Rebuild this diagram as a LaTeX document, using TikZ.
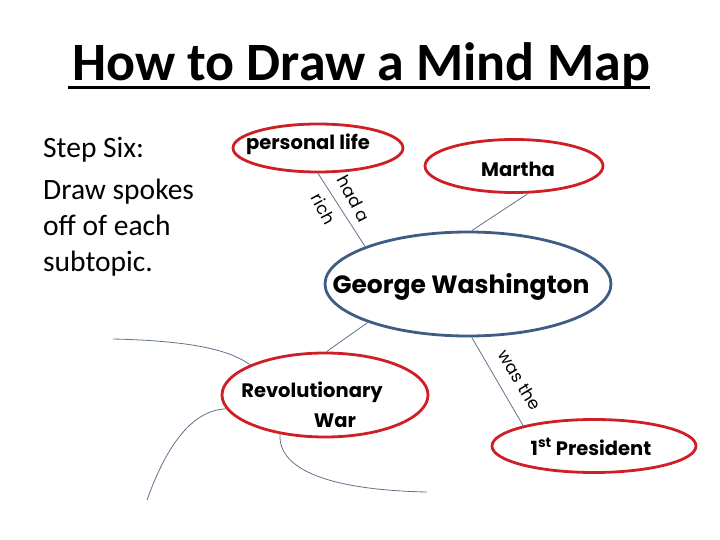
\documentclass[tikz,border=0pt]{standalone}
\usepackage{fontspec}
\setmainfont{Carlito}
\newfontfamily\nodefont{Poppins}
\usetikzlibrary{shapes.geometric}
\definecolor{tred}{RGB}{206,30,38}
\definecolor{tblue}{RGB}{62,92,132}
\definecolor{tspoke}{RGB}{95,115,140}
\begin{document}
\begin{tikzpicture}[x=1pt,y=-1pt,
  redell/.style={ellipse, draw=tred, line width=2.8pt, inner sep=0pt},
  blueell/.style={ellipse, draw=tblue, line width=2.8pt, inner sep=0pt},
  ntext/.style={font=\nodefont\bfseries\fontsize{19.5}{22}\selectfont, inner sep=0pt, align=center},
  ltext/.style={font=\nodefont\fontsize{17}{19}\selectfont, inner sep=0pt},
  spoke/.style={draw=tspoke, line width=0.8pt}]
\useasboundingbox (0,0) rectangle (720,540);
% title
\node[font=\bfseries\fontsize{54}{60}\selectfont, inner sep=0pt, anchor=base] (title) at (361,81) {How to Draw a Mind Map};
\draw[line width=3pt] (68,87.5) -- (650,87.5);
% left text
\node[font=\fontsize{29.5}{36}\selectfont, align=left, inner sep=0pt, anchor=north west] (steps) at (43,137.5)
  {Step Six:\\[6pt]Draw spokes\\off of each\\subtopic.};
% ellipses
\node[redell, minimum width=170pt, minimum height=48pt] (pl) at (318,148) {};
\node[ntext, anchor=base] (plt) at (308,150) {personal life};
\node[redell, minimum width=178pt, minimum height=53pt] (ma) at (514,166) {};
\node[ntext, anchor=base] (mat) at (518,177) {Martha};
\node[blueell, minimum width=286pt, minimum height=104pt] (gw) at (468,284) {};
\node[ntext, font=\nodefont\bfseries\fontsize{25}{28}\selectfont, anchor=base] (gwt) at (461,293) {George Washington};
\node[redell, minimum width=206pt, minimum height=84pt] (rw) at (325,395) {};
\node[ntext, anchor=base] (rwt1) at (312,397) {Revolutionary};
\node[ntext, anchor=base] (rwt2) at (335,427) {War};
\node[redell, minimum width=204pt, minimum height=53pt] (pr) at (594,446) {};
\node[ntext, anchor=base] (prt) at (591,455) {1\textsuperscript{st} President};
% connectors
\draw[spoke] (pl.south) -- (gw.160);
\draw[spoke] (ma.-63) -- (gw.86);
\draw[spoke] (gw.201) -- (rw.88);
\draw[spoke] (gw.274) -- (pr.164);
% spokes off revolutionary war
\coordinate (s1) at (113,339);
\coordinate (s2) at (147,500);
\coordinate (s3) at (427,492);
\draw[spoke] (rw.158) .. controls (232,352) and (200,341) .. (s1);
\draw[spoke] (rw.188) .. controls (190,410) and (165,450) .. (s2);
\draw[spoke] (rw.221) .. controls (278,470) and (330,490) .. (s3);
% labels
\node[ltext, rotate=-62] (lab1) at (354,199) {had a};
\node[ltext, rotate=-62] (lab2) at (324,209) {rich};
\node[ltext, rotate=-59] (lab3) at (520,380) {was the};
\end{tikzpicture}
\end{document}
